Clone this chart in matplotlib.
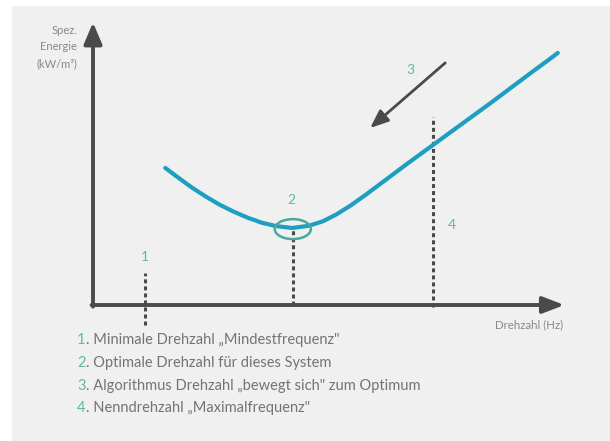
import matplotlib
matplotlib.use("Agg")
import matplotlib.pyplot as plt
from matplotlib.patches import Ellipse, Rectangle

plt.rcParams['font.family'] = ['Lato', 'DejaVu Sans']

# ---- data (conceptual units: frequency 0-100, specific energy 0-100) ----
curve_freq = [15.4, 18, 21, 24, 27, 30, 33, 36, 39, 42.5,
              46, 49, 52, 55, 58, 61, 64, 67, 70, 73, 76, 79, 82, 85,
              88, 91, 94, 97, 99.1]
curve_energy = [49.5, 46.2, 42.5, 39.2, 36.2, 33.7, 31.5, 29.7, 28.5, 27.8,
                28.6, 30.2, 32.8, 36.0, 39.6, 43.4, 47.2, 51.0, 54.7, 58.4,
                62.1, 65.8, 69.5, 73.2, 77.0, 80.8, 84.6, 88.3, 91.0]

marker_freq = [11.1, 42.6, 72.5]          # 1: min speed, 2: optimum, 4: nominal speed
marker_top = [11.6, 27.8, 67.9]
marker_bottom = [-7.2, 0.0, -0.7]

label_nums = ["1", "2", "3", "4"]
label_pos = [(11.1, 17.3), (42.4, 37.9), (67.6, 84.8), (76.5, 28.9)]

arrow3_start = (75.1, 87.4)
arrow3_end = (59.1, 63.9)

optimum = (42.6, 27.4)

y_label = "Spez.\nEnergie\n(kW/m³)"
x_label = "Drehzahl (Hz)"
legend_items = ["Minimale Drehzahl „Mindestfrequenz\"",
                "Optimale Drehzahl für dieses System",
                "Algorithmus Drehzahl „bewegt sich\" zum Optimum",
                "Nenndrehzahl „Maximalfrequenz\""]

# ---- styles ----
W, H = 610, 441
BG = "#f0f0f0"
AXIS = "#4a4a4a"
CURVE = "#1e9ec0"
TEAL = "#5fb8a6"
TXT = "#747474"

fig = plt.figure(figsize=(W / 100, H / 100), dpi=100)
fig.patch.set_facecolor("white")
fig.patches.append(Rectangle((12 / W, 0), 1, 1 - 6 / H, transform=fig.transFigure,
                             facecolor=BG, edgecolor="none", zorder=-10))

x0, y0, x1, y1 = 93, 305, 562, 28
ax = fig.add_axes([x0 / W, 1 - y0 / H, (x1 - x0) / W, (y0 - y1) / H])
ax.set_xlim(0, 100)
ax.set_ylim(0, 100)
ax.axis("off")
ax.patch.set_visible(False)

# axes with arrows
ax.annotate("", xy=(0, 102), xytext=(0, -0.6), xycoords="data",
            arrowprops=dict(arrowstyle="-|>,head_length=1.3,head_width=0.55",
                            color=AXIS, lw=2.8, shrinkA=0, shrinkB=0),
            annotation_clip=False)
ax.annotate("", xy=(100.5, 0), xytext=(-0.3, 0), xycoords="data",
            arrowprops=dict(arrowstyle="-|>,head_length=1.3,head_width=0.5",
                            color=AXIS, lw=2.8, shrinkA=0, shrinkB=0),
            annotation_clip=False)

# dashed markers
for xf, yt, yb in zip(marker_freq, marker_top, marker_bottom):
    ax.plot([xf, xf], [yb, yt], color=AXIS, lw=2.2, ls=(0, (1.3, 1.0)),
            clip_on=False, solid_capstyle="butt", dash_capstyle="butt")

# curve
ax.plot(curve_freq, curve_energy, color=CURVE, lw=3.0, clip_on=False,
        solid_capstyle="round", solid_joinstyle="round", zorder=3)

# optimum ellipse
ax.add_patch(Ellipse(optimum, 7.7, 7.2, fill=False, edgecolor="#4aa99a",
                     lw=1.8, zorder=4, clip_on=False))

# arrow 3
ax.annotate("", xy=arrow3_end, xytext=arrow3_start,
            arrowprops=dict(arrowstyle="-|>,head_length=1.1,head_width=0.45",
                            color=AXIS, lw=2.0, shrinkA=0, shrinkB=0),
            annotation_clip=False)

# numbered labels
for n, (xx, yy) in zip(label_nums, label_pos):
    ax.text(xx, yy, n, color=TEAL, fontsize=10, ha="center", va="center")

# axis labels (figure pixel positions)
fig.text(77 / W, 1 - 47 / H, y_label, ha="right", va="center",
         multialignment="right", fontsize=8, color="#888888", linespacing=1.6)
fig.text(563 / W, 1 - 325 / H, x_label, ha="right", va="center",
         fontsize=8.3, color="#888888")

# legend lines
ys = [340, 363, 386, 408]
for i, (item, yy) in enumerate(zip(legend_items, ys)):
    t = fig.text(77 / W, 1 - yy / H, f"{i + 1}", color=TEAL, fontsize=10.5,
                 ha="left", va="center")
    ax.annotate(". " + item, xy=(1, 0.5), xycoords=t, va="center", ha="left",
                color=TXT, fontsize=10.5, annotation_clip=False)

fig.savefig("out.png", dpi=100, facecolor=fig.get_facecolor())
